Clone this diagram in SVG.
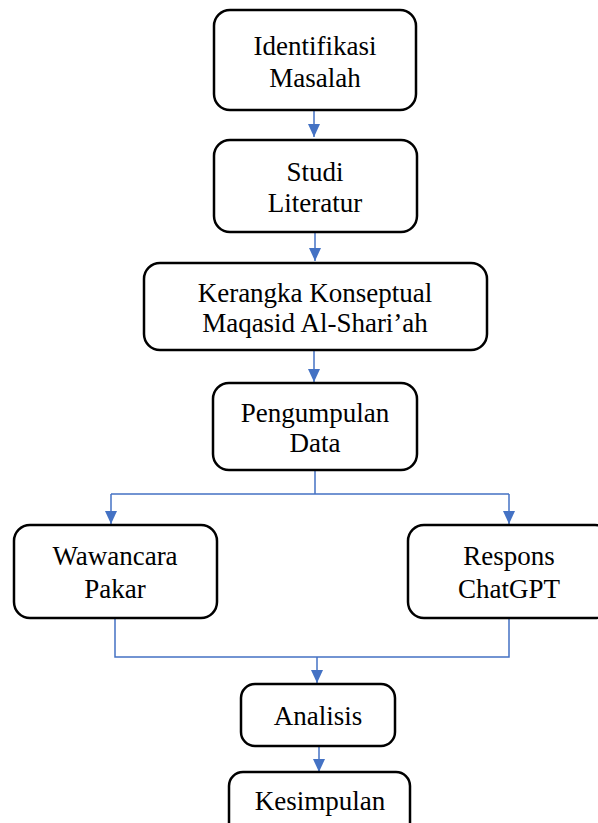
<svg xmlns="http://www.w3.org/2000/svg" width="598" height="823" viewBox="0 0 598 823">
<defs>
<marker id="ah" markerUnits="userSpaceOnUse" markerWidth="13" markerHeight="12" viewBox="0 0 13 12" refX="13" refY="6" orient="auto">
<path d="M0,0 L13,6 L0,12 Z" fill="#4472C4"/>
</marker>
</defs>
<style>
.box{fill:#fff;stroke:#000;stroke-width:2.5}
.t{font-family:"Liberation Serif","Times New Roman",serif;font-size:27px;fill:#000;text-anchor:middle}
.c{fill:none;stroke:#4472C4;stroke-width:1.5}
</style>
<rect width="598" height="823" fill="#fff"/>
<g id="connectors">
<path class="c" d="M314,110 V137" marker-end="url(#ah)"/>
<path class="c" d="M315,232 V261" marker-end="url(#ah)"/>
<path class="c" d="M314,350 V382" marker-end="url(#ah)"/>
<path class="c" d="M315,470 V494 M111,494 H509"/>
<path class="c" d="M111,494 V524" marker-end="url(#ah)"/>
<path class="c" d="M509,494 V524" marker-end="url(#ah)"/>
<path class="c" d="M115,618 V657 H509 V618"/>
<path class="c" d="M317,657 V683" marker-end="url(#ah)"/>
<path class="c" d="M319,746 V772" marker-end="url(#ah)"/>
</g>
<g id="identifikasi">
<rect class="box" x="214" y="10" width="202" height="100" rx="16"/>
<text class="t" x="315" y="55">Identifikasi</text>
<text class="t" x="315" y="87">Masalah</text>
</g>
<g id="studi">
<rect class="box" x="214" y="140" width="203" height="92" rx="16"/>
<text class="t" x="315" y="181">Studi</text>
<text class="t" x="315" y="212">Literatur</text>
</g>
<g id="kerangka">
<rect class="box" x="144" y="263" width="343" height="87" rx="16"/>
<text class="t" x="315" y="302">Kerangka Konseptual</text>
<text class="t" x="315" y="332">Maqasid Al-Shari’ah</text>
</g>
<g id="pengumpulan">
<rect class="box" x="213" y="383" width="204" height="87" rx="16"/>
<text class="t" x="315" y="422">Pengumpulan</text>
<text class="t" x="315" y="452">Data</text>
</g>
<g id="wawancara">
<rect class="box" x="14" y="525" width="203" height="93" rx="16"/>
<text class="t" x="115" y="565">Wawancara</text>
<text class="t" x="115" y="598">Pakar</text>
</g>
<g id="respons">
<rect class="box" x="408" y="525" width="203" height="93" rx="16"/>
<text class="t" x="509" y="565">Respons</text>
<text class="t" x="509" y="598">ChatGPT</text>
</g>
<g id="analisis">
<rect class="box" x="241" y="684" width="154" height="62" rx="14"/>
<text class="t" x="318" y="725">Analisis</text>
</g>
<g id="kesimpulan">
<rect class="box" x="229" y="772" width="181" height="70" rx="14"/>
<text class="t" x="320" y="810">Kesimpulan</text>
</g>
</svg>
